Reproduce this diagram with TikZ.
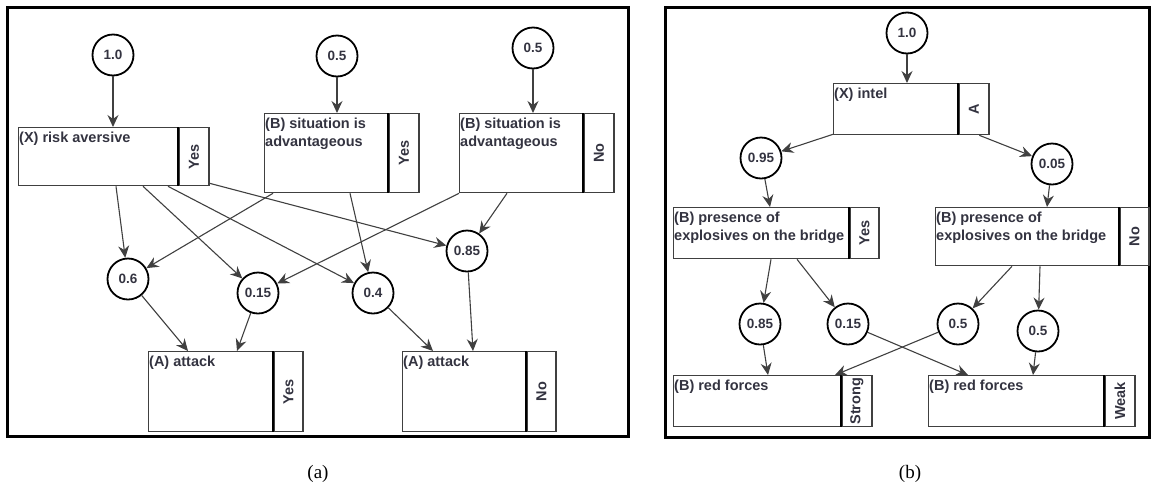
\documentclass[tikz,border=0pt]{standalone}
\usepackage{fontspec}
\usepackage{graphicx}
\setmainfont{Liberation Sans}
\newfontfamily\capfont{Liberation Serif}
\usetikzlibrary{arrows.meta}

\definecolor{ink}{HTML}{333340}
\definecolor{wire}{HTML}{404040}

\tikzset{
  panel/.style={draw=black, line width=3pt},
  prob/.style={circle, draw=black, line width=1.8pt, minimum size=41pt, inner sep=0pt,
    font=\bfseries\fontsize{13.5}{15}\selectfont, text=ink},
  mainbox/.style={draw=wire, line width=1.3pt, anchor=north west, inner sep=0pt},
  cellbox/.style={draw=wire, line width=1.3pt, anchor=north west, inner sep=0pt,
    minimum width=30pt, font=\bfseries\fontsize{14.5}{16}\selectfont, text=ink},
  boxtext/.style={anchor=north west, inner xsep=1pt, inner ysep=4.5pt, align=left,
    font=\bfseries\fontsize{14.5}{18.5}\selectfont, text=ink},
  divider/.style={draw=black, line width=2.2pt},
  link/.style={draw=wire, line width=1.1pt, -{Stealth[length=12pt,width=11pt,inset=4pt]}},
  caption/.style={font=\capfont\fontsize{19}{21}\selectfont},
}

\begin{document}
\begin{tikzpicture}[x=1pt, y=-1pt]
\useasboundingbox (0,0) rectangle (1153,488);

% ---------------- panel (a) ----------------
\draw[panel] (7,7) rectangle (628,436);

\node[prob] (a10) at (113,55) {1.0};
\node[prob] (a05y) at (337,56) {0.5};
\node[prob] (a05n) at (533,48) {0.5};

% risk aversive
\node[mainbox, minimum width=159pt, minimum height=58pt] (xr) at (18,127) {};
\node[boxtext] (xrt) at (xr.north west) {(X) risk aversive};
\node[cellbox, minimum height=58pt] (xrc) at (xr.north east) {\rotatebox{90}{Yes}};
\draw[divider] (xrc.north west) -- (xrc.south west);

% situation is advantageous, yes
\node[mainbox, minimum width=123pt, minimum height=79pt] (sy) at (264,113) {};
\node[boxtext] (syt) at (sy.north west) {(B) situation is\\advantageous};
\node[cellbox, minimum height=79pt] (syc) at (sy.north east) {\rotatebox{90}{Yes}};
\draw[divider] (syc.north west) -- (syc.south west);

% situation is advantageous, no
\node[mainbox, minimum width=123pt, minimum height=79pt] (sn) at (459,113) {};
\node[boxtext] (snt) at (sn.north west) {(B) situation is\\advantageous};
\node[cellbox, minimum height=79pt] (snc) at (sn.north east) {\rotatebox{90}{No}};
\draw[divider] (snc.north west) -- (snc.south west);

\node[prob] (a06) at (128,279) {0.6};
\node[prob] (a015) at (258,293) {0.15};
\node[prob] (a04) at (373,293) {0.4};
\node[prob] (a085) at (467,251) {0.85};

% attack, yes
\node[mainbox, minimum width=124pt, minimum height=80pt] (ay) at (148,351) {};
\node[boxtext] (ayt) at (ay.north west) {(A) attack};
\node[cellbox, minimum width=29pt, minimum height=80pt] (ayc) at (ay.north east) {\rotatebox{90}{Yes}};
\draw[divider] (ayc.north west) -- (ayc.south west);

% attack, no
\node[mainbox, minimum width=123pt, minimum height=80pt] (an) at (402,351) {};
\node[boxtext] (ant) at (an.north west) {(A) attack};
\node[cellbox, minimum width=29pt, minimum height=80pt] (anc) at (an.north east) {\rotatebox{90}{No}};
\draw[divider] (anc.north west) -- (anc.south west);

\draw[link] (a10) -- ([xshift=95pt]xr.north west);
\draw[link] (a05y) -- ([xshift=73pt]sy.north west);
\draw[link] (a05n) -- ([xshift=74pt]sn.north west);

\draw[link] ([xshift=98pt]xr.south west) -- (a06);
\draw[link] ([xshift=125pt]xr.south west) -- (a015);
\draw[link] ([xshift=150pt]xr.south west) -- (a04);
\draw[link] ([yshift=3pt]xrc.south east) -- (a085);
\draw[link] ([xshift=9pt]sy.south west) -- (a06);
\draw[link] ([xshift=86pt]sy.south west) -- (a04);
\draw[link] (sn.south west) -- (a015);
\draw[link] ([xshift=48pt]sn.south west) -- (a085);

\draw[link] (a06) -- ([xshift=40pt]ay.north west);
\draw[link] (a015) -- ([xshift=89pt]ay.north west);
\draw[link] (a04) -- ([xshift=31pt]an.north west);
\draw[link] (a085) -- ([xshift=71pt]an.north west);

\node[caption] (capa) at (318,474) {(a)};

% ---------------- panel (b) ----------------
\draw[panel] (665,7) rectangle (1149,437);

\node[prob] (b10) at (907,33) {1.0};

% intel
\node[mainbox, minimum width=124pt, minimum height=51pt] (in) at (833,83) {};
\node[boxtext] (intt) at (in.north west) {(X) intel};
\node[cellbox, minimum height=51pt] (inc) at (in.north east) {\rotatebox{90}{A}};
\draw[divider] (inc.north west) -- (inc.south west);

\node[prob] (b095) at (761,158) {0.95};
\node[prob] (b005) at (1052,164) {0.05};

% presence of explosives, yes
\node[mainbox, minimum width=175pt, minimum height=51pt] (py) at (673,207) {};
\node[boxtext] (pyt) at (py.north west) {(B) presence of\\explosives on the bridge};
\node[cellbox, minimum width=29pt, minimum height=51pt] (pyc) at (py.north east) {\rotatebox{90}{Yes}};
\draw[divider] (pyc.north west) -- (pyc.south west);

% presence of explosives, no
\node[mainbox, minimum width=183pt, minimum height=58pt] (pn) at (935,207) {};
\node[boxtext] (pnt) at (pn.north west) {(B) presence of\\explosives on the bridge};
\node[cellbox, minimum width=29pt, minimum height=58pt] (pnc) at (pn.north east) {\rotatebox{90}{No}};
\draw[divider] (pnc.north west) -- (pnc.south west);

\node[prob] (b085) at (760,324) {0.85};
\node[prob] (b015) at (848,324) {0.15};
\node[prob] (b05a) at (958,324) {0.5};
\node[prob] (b05b) at (1038,331) {0.5};

% red forces, strong
\node[mainbox, minimum width=167pt, minimum height=51pt] (rs) at (673,375) {};
\node[boxtext] (rst) at (rs.north west) {(B) red forces};
\node[cellbox, minimum height=51pt] (rsc) at (rs.north east) {\rotatebox{90}{Strong}};
\draw[divider] (rsc.north west) -- (rsc.south west);

% red forces, weak
\node[mainbox, minimum width=175pt, minimum height=51pt] (rw) at (928,375) {};
\node[boxtext] (rwt) at (rw.north west) {(B) red forces};
\node[cellbox, minimum height=51pt] (rwc) at (rw.north east) {\rotatebox{90}{Weak}};
\draw[divider] (rwc.north west) -- (rwc.south west);

\draw[link] (b10) -- ([xshift=74pt]in.north west);
\draw[link] ([yshift=1pt]in.south west) -- (b095);
\draw[link] ([xshift=21pt]inc.south west) -- (b005);
\draw[link] (b095) -- ([xshift=97pt]py.north west);
\draw[link] (b005) -- ([xshift=112pt]pn.north west);

\draw[link] ([xshift=98pt]py.south west) -- (b085);
\draw[link] ([xshift=124pt]py.south west) -- (b015);
\draw[link] ([xshift=77pt]pn.south west) -- (b05a);
\draw[link] ([xshift=105pt]pn.south west) -- (b05b);

\draw[link] (b085) -- ([xshift=95pt]rs.north west);
\draw[link] (b05a) -- ([xshift=162pt]rs.north west);
\draw[link] (b015) -- ([xshift=40pt]rw.north west);
\draw[link] (b05b) -- ([xshift=105pt]rw.north west);

\node[caption] (capb) at (910,474) {(b)};
\end{tikzpicture}
\end{document}
